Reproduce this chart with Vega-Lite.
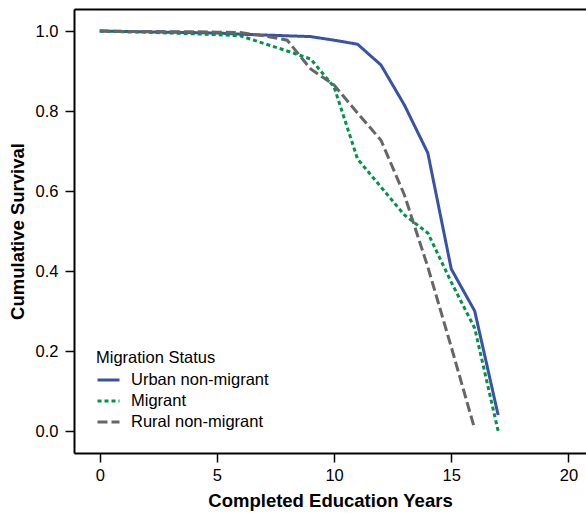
{
  "$schema": "https://vega.github.io/schema/vega-lite/v6.json",
  "width": 512,
  "height": 444,
  "autosize": {"type": "none"},
  "padding": {"left": 74, "top": 9, "right": 0, "bottom": 60},
  "background": "white",
  "config": {
    "view": {"stroke": null},
    "font": "Liberation Sans",
    "axis": {
      "domainColor": "black",
      "domainWidth": 2,
      "tickColor": "black",
      "tickWidth": 1.5,
      "tickSize": 9,
      "labelColor": "black",
      "labelFont": "Liberation Sans",
      "labelFontSize": 16.5,
      "titleFont": "Liberation Sans",
      "titleFontSize": 18.5,
      "titleFontWeight": "bold",
      "titleColor": "black",
      "grid": false
    }
  },
  "data": {
    "values": [
      {"x": 0, "y": 1.0, "s": "Urban non-migrant"},
      {"x": 1, "y": 0.999, "s": "Urban non-migrant"},
      {"x": 2, "y": 0.998, "s": "Urban non-migrant"},
      {"x": 3, "y": 0.997, "s": "Urban non-migrant"},
      {"x": 4, "y": 0.996, "s": "Urban non-migrant"},
      {"x": 5, "y": 0.995, "s": "Urban non-migrant"},
      {"x": 6, "y": 0.992, "s": "Urban non-migrant"},
      {"x": 7, "y": 0.99, "s": "Urban non-migrant"},
      {"x": 8, "y": 0.988, "s": "Urban non-migrant"},
      {"x": 9, "y": 0.986, "s": "Urban non-migrant"},
      {"x": 10, "y": 0.977, "s": "Urban non-migrant"},
      {"x": 11, "y": 0.967, "s": "Urban non-migrant"},
      {"x": 12, "y": 0.915, "s": "Urban non-migrant"},
      {"x": 13, "y": 0.815, "s": "Urban non-migrant"},
      {"x": 14, "y": 0.695, "s": "Urban non-migrant"},
      {"x": 15, "y": 0.405, "s": "Urban non-migrant"},
      {"x": 16, "y": 0.3, "s": "Urban non-migrant"},
      {"x": 17, "y": 0.04, "s": "Urban non-migrant"},
      {"x": 0, "y": 1.0, "s": "Migrant"},
      {"x": 1, "y": 0.998, "s": "Migrant"},
      {"x": 2, "y": 0.997, "s": "Migrant"},
      {"x": 3, "y": 0.995, "s": "Migrant"},
      {"x": 4, "y": 0.993, "s": "Migrant"},
      {"x": 5, "y": 0.991, "s": "Migrant"},
      {"x": 6, "y": 0.988, "s": "Migrant"},
      {"x": 7, "y": 0.969, "s": "Migrant"},
      {"x": 8, "y": 0.95, "s": "Migrant"},
      {"x": 9, "y": 0.93, "s": "Migrant"},
      {"x": 10, "y": 0.86, "s": "Migrant"},
      {"x": 11, "y": 0.68, "s": "Migrant"},
      {"x": 12, "y": 0.61, "s": "Migrant"},
      {"x": 13, "y": 0.54, "s": "Migrant"},
      {"x": 14, "y": 0.495, "s": "Migrant"},
      {"x": 15, "y": 0.372, "s": "Migrant"},
      {"x": 16, "y": 0.257, "s": "Migrant"},
      {"x": 17, "y": 0.0, "s": "Migrant"},
      {"x": 0, "y": 1.0, "s": "Rural non-migrant"},
      {"x": 1, "y": 0.999, "s": "Rural non-migrant"},
      {"x": 2, "y": 0.999, "s": "Rural non-migrant"},
      {"x": 3, "y": 0.998, "s": "Rural non-migrant"},
      {"x": 4, "y": 0.998, "s": "Rural non-migrant"},
      {"x": 5, "y": 0.997, "s": "Rural non-migrant"},
      {"x": 6, "y": 0.996, "s": "Rural non-migrant"},
      {"x": 7, "y": 0.988, "s": "Rural non-migrant"},
      {"x": 8, "y": 0.977, "s": "Rural non-migrant"},
      {"x": 9, "y": 0.905, "s": "Rural non-migrant"},
      {"x": 10, "y": 0.865, "s": "Rural non-migrant"},
      {"x": 11, "y": 0.795, "s": "Rural non-migrant"},
      {"x": 12, "y": 0.727, "s": "Rural non-migrant"},
      {"x": 13, "y": 0.59, "s": "Rural non-migrant"},
      {"x": 14, "y": 0.41, "s": "Rural non-migrant"},
      {"x": 15, "y": 0.21, "s": "Rural non-migrant"},
      {"x": 16, "y": 0.005, "s": "Rural non-migrant"}
    ]
  },
  "resolve": {"axis": {"x": "independent", "y": "independent"}},
  "layer": [
    {
      "mark": {"type": "line", "strokeWidth": 3, "clip": true},
      "encoding": {
        "x": {
          "field": "x", "type": "quantitative",
          "scale": {"domain": [-1.1, 20.75], "nice": false, "zero": false},
          "axis": {"orient": "bottom", "values": [0, 5, 10, 15, 20], "title": "Completed Education Years", "labelPadding": 5, "titlePadding": 8}
        },
        "y": {
          "field": "y", "type": "quantitative",
          "scale": {"domain": [-0.055, 1.055], "nice": false, "zero": false},
          "axis": {"orient": "left", "values": [0, 0.2, 0.4, 0.6, 0.8, 1.0], "format": ".1f", "title": "Cumulative Survival", "labelPadding": 7, "titlePadding": 8}
        },
        "color": {
          "field": "s", "type": "nominal",
          "scale": {"domain": ["Urban non-migrant", "Migrant", "Rural non-migrant"], "range": ["#3953A4", "#00944A", "#666666"]},
          "legend": {
            "title": "Migration Status",
            "orient": "none",
            "legendX": 22,
            "legendY": 341,
            "padding": 0,
            "titleFont": "Liberation Sans",
            "titleFontSize": 16.5,
            "titleFontWeight": "normal",
            "titleColor": "black",
            "titlePadding": 1,
            "labelFont": "Liberation Sans",
            "labelFontSize": 16.5,
            "labelColor": "black",
            "labelOffset": 10,
            "symbolType": "stroke",
            "symbolSize": 484,
            "symbolStrokeWidth": 3,
            "rowPadding": 0
          }
        },
        "strokeDash": {
          "field": "s", "type": "nominal",
          "scale": {"domain": ["Urban non-migrant", "Migrant", "Rural non-migrant"], "range": [[1, 0], [4, 3], [10, 4]]},
          "legend": {
            "title": "Migration Status"
          }
        }
      }
    },
    {
      "mark": {"type": "line", "opacity": 0},
      "encoding": {
        "x": {
          "field": "x", "type": "quantitative",
          "axis": {"orient": "top", "labels": false, "ticks": false, "title": null}
        },
        "y": {
          "field": "y", "type": "quantitative",
          "axis": {"orient": "right", "labels": false, "ticks": false, "title": null, "domain": false}
        }
      }
    }
  ]
}
